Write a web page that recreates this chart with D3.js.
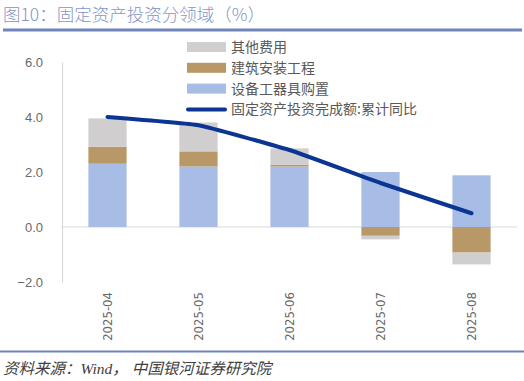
<!DOCTYPE html>
<html>
<head>
<meta charset="utf-8">
<script src="https://cdn.jsdelivr.net/npm/d3@7"></script>
<style>
  body { margin: 0; background: #fff; }
  svg { display: block; }
</style>
</head>
<body>
<svg width="524" height="381"></svg>
<script>
// data
var months = ["2025-04", "2025-05", "2025-06", "2025-07", "2025-08"];
var equip = [2.3, 2.2, 2.2, 2.0, 1.88];        // 设备工器具购置
var build = [0.62, 0.55, 0.06, -0.32, -0.93];  // 建筑安装工程
var other = [1.03, 1.05, 0.6, -0.13, -0.43];   // 其他费用
var total = [4.0, 3.7, 2.8, 1.6, 0.5];         // 累计同比
var yTicks = [-2, 0, 2, 4, 6];

var svg = d3.select("svg");
var cn = "'Noto Sans CJK SC', sans-serif";
var narrow = "'Liberation Sans Narrow', 'DejaVu Sans Condensed', sans-serif";

// title and rules
svg.append("text")
  .attr("x", 3).attr("y", 21)
  .attr("font-family", cn).attr("font-size", "17.5px")
  .attr("font-weight", 300)
  .attr("fill", "#8496c6")
  .text("图10：固定资产投资分领域（%）");
svg.append("rect").attr("x", 3).attr("y", 28.5).attr("width", 519).attr("height", 3).attr("fill", "#6f84bb");
svg.append("rect").attr("x", 0).attr("y", 350.5).attr("width", 524).attr("height", 2).attr("fill", "#6f84bb");
svg.append("text")
  .attr("x", 3).attr("y", 374)
  .attr("font-family", "'Liberation Serif', 'Noto Sans CJK SC', serif")
  .attr("font-style", "italic").attr("font-size", "15.5px")
  .attr("fill", "#404040")
  .text("资料来源：Wind， 中国银河证券研究院");

var plotL = 62, plotR = 517, plotT = 62, plotB = 282;
var x = d3.scaleBand().domain(months).range([plotL, plotR]).paddingInner(0.58).paddingOuter(0.29);
var y = d3.scaleLinear().domain([-2, 6]).range([plotB, plotT]);

// y axis
var yAxis = svg.append("g")
  .attr("transform", "translate(" + plotL + ",0)")
  .call(d3.axisLeft(y).tickValues(yTicks).tickSize(0).tickPadding(19).tickFormat(d3.format(".1f")));
yAxis.select(".domain").attr("stroke", "#d9d9d9").attr("stroke-width", 1.2);
yAxis.selectAll("text")
  .attr("font-family", "'Liberation Sans', sans-serif").attr("font-size", "13px").attr("fill", "#6a6a6a");

// zero line
svg.append("line")
  .attr("x1", plotL).attr("x2", plotR)
  .attr("y1", y(0)).attr("y2", y(0))
  .attr("stroke", "#d9d9d9").attr("stroke-width", 1.2);

// stacked bars (positive and negative stacked separately)
var layers = [
  { name: "设备工器具购置", vals: equip, color: "#a8bde5" },
  { name: "建筑安装工程", vals: build, color: "#b89867" },
  { name: "其他费用", vals: other, color: "#d0cece" }
];
months.forEach(function (m, i) {
  var pos = 0, neg = 0;
  layers.forEach(function (l) {
    var v = l.vals[i], y0, y1;
    if (v >= 0) { y0 = pos; y1 = pos + v; pos = y1; }
    else { y0 = neg; y1 = neg + v; neg = y1; }
    svg.append("rect")
      .attr("x", x(m))
      .attr("width", x.bandwidth())
      .attr("y", y(Math.max(y0, y1)))
      .attr("height", Math.abs(y(y0) - y(y1)))
      .attr("fill", l.color);
  });
});

// line
var line = d3.line()
  .x(function (d, i) { return x(months[i]) + x.bandwidth() / 2; })
  .y(function (d) { return y(d); })
  .curve(d3.curveCardinal.tension(0.65));
svg.append("path")
  .datum(total)
  .attr("d", line)
  .attr("fill", "none")
  .attr("stroke", "#0b3592")
  .attr("stroke-width", 4)
  .attr("stroke-linecap", "round");

// x labels rotated
months.forEach(function (m) {
  svg.append("text")
    .attr("transform", "translate(" + (x(m) + x.bandwidth() / 2 + 4) + ",292) rotate(-90)")
    .attr("text-anchor", "end")
    .attr("font-family", narrow).attr("font-size", "13px").attr("fill", "#6a6a6a")
    .text(m);
});

// legend
var legend = [
  { name: "其他费用", color: "#d0cece", type: "rect" },
  { name: "建筑安装工程", color: "#b89867", type: "rect" },
  { name: "设备工器具购置", color: "#a8bde5", type: "rect" },
  { name: "固定资产投资完成额:累计同比", color: "#0b3592", type: "line" }
];
legend.forEach(function (l, i) {
  var ly = 47 + i * 20.8;
  if (l.type === "rect") {
    svg.append("rect").attr("x", 187).attr("y", ly - 5).attr("width", 39).attr("height", 10).attr("fill", l.color);
  } else {
    svg.append("line").attr("x1", 188).attr("x2", 225).attr("y1", ly).attr("y2", ly)
      .attr("stroke", l.color).attr("stroke-width", 4).attr("stroke-linecap", "round");
  }
  svg.append("text")
    .attr("x", 231).attr("y", ly + 5)
    .attr("font-family", cn).attr("font-size", "14px").attr("fill", "#595959")
    .text(l.name);
});
</script>
</body>
</html>
